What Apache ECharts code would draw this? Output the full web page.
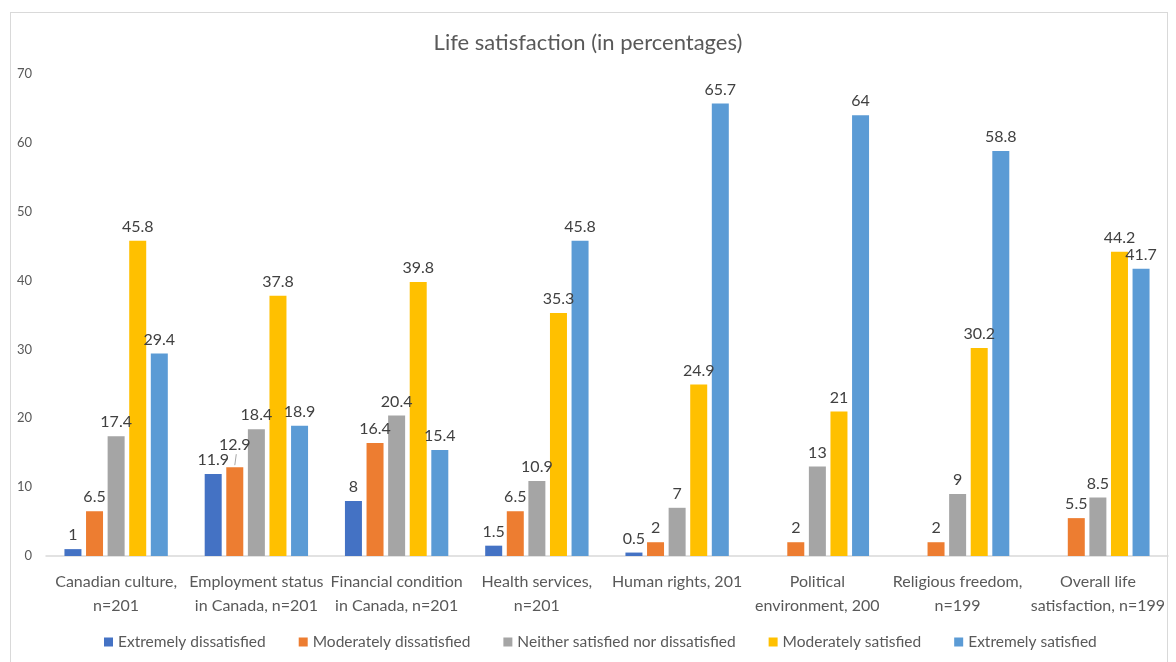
<!DOCTYPE html>
<html><head><meta charset="utf-8">
<script src="https://cdn.jsdelivr.net/npm/echarts@6/dist/echarts.min.js"></script>
<style>
html,body{margin:0;padding:0;background:#fff;}
#frame{position:absolute;left:10px;top:12px;width:1158px;height:660px;border:1px solid #d9d9d9;box-sizing:border-box;}
#c{position:absolute;left:0;top:0;width:1176px;height:662px;}
</style></head>
<body><div id="frame"></div><div id="c"></div>
<script>
const categories = ["Canadian culture,\nn=201","Employment status\nin Canada, n=201","Financial condition\nin Canada, n=201","Health services,\nn=201","Human rights, 201","Political\nenvironment, 200","Religious freedom,\nn=199","Overall life\nsatisfaction, n=199"];
const seriesNames = ["Extremely dissatisfied","Moderately dissatisfied","Neither satisfied nor dissatisfied","Moderately satisfied","Extremely satisfied"];
const extremelyDissatisfied = [1, 11.9, 8, 1.5, 0.5, null, null, null];
const moderatelyDissatisfied = [6.5, 12.9, 16.4, 6.5, 2, 2, 2, 5.5];
const neither = [17.4, 18.4, 20.4, 10.9, 7, 13, 9, 8.5];
const moderatelySatisfied = [45.8, 37.8, 39.8, 35.3, 24.9, 21, 30.2, 44.2];
const extremelySatisfied = [29.4, 18.9, 15.4, 45.8, 65.7, 64, 58.8, 41.7];
const yTicks = {min: 0, max: 70, interval: 10};

const colors = ["#4472C4","#ED7D31","#A5A5A5","#FFC000","#5B9BD5"];
const allData = [extremelyDissatisfied, moderatelyDissatisfied, neither, moderatelySatisfied, extremelySatisfied];
const font = "Lato, 'Noto Sans', sans-serif";

const chart = echarts.init(document.getElementById('c'));
const series = allData.map((d, i) => ({
  name: seriesNames[i],
  type: 'bar',
  barWidth: 17,
  barGap: '27%',
  data: d.map((v, j) => {
    if (i === 1 && j === 1) return {value: v, label: {offset: [0, -8]}};
    return v;
  }),
  itemStyle: {color: colors[i]},
  label: {show: true, position: 'top', distance: 6, color: '#404040', fontSize: 16, fontFamily: font}
}));

chart.setOption({
  animation: false,
  color: colors,
  title: {text: 'Life satisfaction (in percentages)', left: 'center', top: 27,
    textStyle: {fontSize: 22, fontWeight: 'normal', color: '#595959', fontFamily: font}},
  grid: {left: 46, right: 8, top: 74, bottom: 106},
  legend: {bottom: 7, left: 99, itemWidth: 9, itemHeight: 9, itemGap: 33, icon: 'rect',
    textStyle: {fontSize: 15.5, color: '#595959', fontFamily: font}},
  xAxis: {type: 'category', data: categories,
    axisLine: {lineStyle: {color: '#d9d9d9', width: 1.5}}, axisTick: {show: false},
    axisLabel: {fontSize: 16, color: '#595959', lineHeight: 24, margin: 14, interval: 0, fontFamily: font}},
  yAxis: {type: 'value', min: yTicks.min, max: yTicks.max, interval: yTicks.interval,
    splitLine: {show: false}, axisLine: {show: false}, axisTick: {show: false},
    axisLabel: {fontSize: 13, color: '#595959', margin: 14, fontFamily: font}},
  series: series
});

// leader line for the offset 12.9 label, placed via the chart's own scales
const rects = chart.getModel().getSeriesByIndex(1).getData().getItemLayout(1);
if (rects) {
  const cx = rects.x + rects.width / 2;
  const top = rects.y + rects.height;
  chart.setOption({graphic: [{type: 'line', shape: {x1: cx, y1: Math.min(rects.y, top) - 2, x2: cx + 1.5, y2: Math.min(rects.y, top) - 13},
    style: {stroke: '#a6a6a6', lineWidth: 1}}]});
}
</script></body></html>
